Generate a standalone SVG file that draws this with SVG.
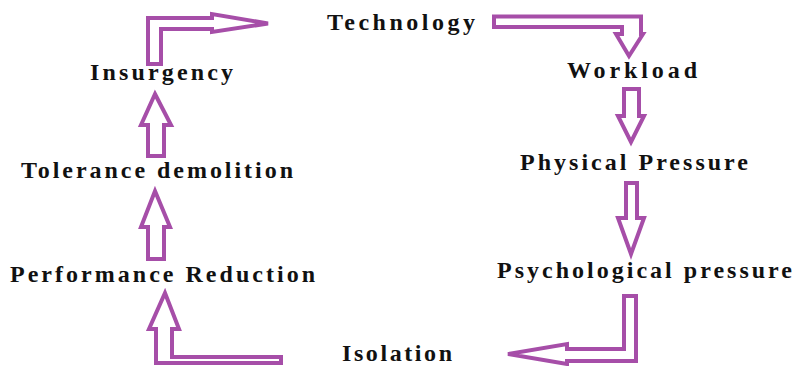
<svg xmlns="http://www.w3.org/2000/svg" width="795" height="366" viewBox="0 0 795 366">
<style>
.lbl{font-family:"Liberation Serif","Times New Roman",serif;font-weight:bold;font-size:24px;fill:#111111;}
.arr{fill:#ffffff;stroke:#A64EA8;stroke-width:4;stroke-linejoin:miter;}
</style>
<rect width="795" height="366" fill="#ffffff"/>
<g id="connectors">
<polygon class="arr" points="148,64 148,18 212,18 212,14 268,23.5 212,32 212,29 161,29 161,64"/>
<polygon class="arr" points="494,16.5 641,16.5 641,34 643,34 629,56 616,34 622,34 622,27 494,27"/>
<polygon class="arr" points="624,89 639,89 639,116 644,116 631,142 618,116 624,116"/>
<polygon class="arr" points="626,183 637,183 637,218 644,218 631,254 618,218 626,218"/>
<polygon class="arr" points="624,296 636,296 636,361 567,361 567,364 508,354 567,344 567,349 624,349"/>
<polygon class="arr" points="165,293 179,329 172,329 172,357 281,357 281,363 156,363 156,329 149,329"/>
<polygon class="arr" points="155,191 170,227 164,227 164,259 148,259 148,227 141,227"/>
<polygon class="arr" points="155,94 171,125 164,125 164,156 148,156 148,125 141,125"/>
</g>
<g id="technology"><text class="lbl" x="327" y="30" textLength="148" lengthAdjust="spacing">Technology</text></g>
<g id="workload"><text class="lbl" x="567" y="78" textLength="130" lengthAdjust="spacing">Workload</text></g>
<g id="physical-pressure"><text class="lbl" x="520" y="170" textLength="228" lengthAdjust="spacing">Physical Pressure</text></g>
<g id="psychological-pressure"><text class="lbl" x="497" y="278" textLength="295" lengthAdjust="spacing">Psychological pressure</text></g>
<g id="isolation"><text class="lbl" x="342" y="361" textLength="110" lengthAdjust="spacing">Isolation</text></g>
<g id="performance-reduction"><text class="lbl" x="10" y="282" textLength="305" lengthAdjust="spacing">Performance Reduction</text></g>
<g id="tolerance-demolition"><text class="lbl" x="21" y="178" textLength="272" lengthAdjust="spacing">Tolerance demolition</text></g>
<g id="insurgency"><text class="lbl" x="90" y="80" textLength="143" lengthAdjust="spacing">Insurgency</text></g>
</svg>
